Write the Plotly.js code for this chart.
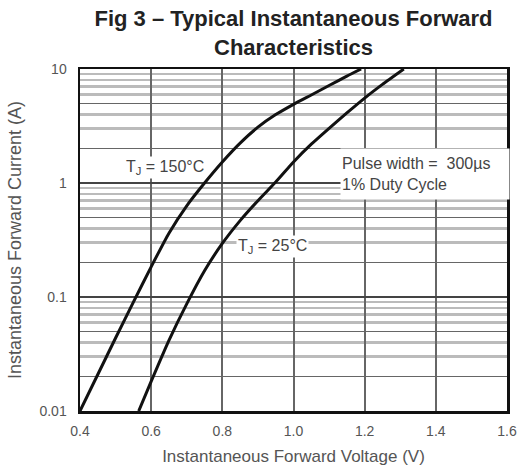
<!DOCTYPE html>
<html>
<head>
<meta charset="utf-8">
<script src="https://cdn.plot.ly/plotly-3.0.1.min.js"></script>
<style>html,body{margin:0;padding:0;background:#fff;}#chart{width:522px;height:468px;}</style>
</head>
<body>
<div id="chart"></div>
<script>
// Tj = 150 °C curve (V, A)
const v150 = [0.40, 0.45, 0.50, 0.55, 0.60, 0.65, 0.70, 0.75, 0.80, 0.85, 0.90, 0.95, 1.00, 1.05, 1.10, 1.15, 1.19];
const i150 = [0.01, 0.0209, 0.0437, 0.0902, 0.184, 0.363, 0.631, 1.0, 1.53, 2.24, 3.09, 3.98, 4.9, 5.92, 7.16, 8.66, 10];
// Tj = 25 °C curve (V, A)
const v25 = [0.565, 0.60, 0.65, 0.70, 0.75, 0.80, 0.85, 0.90, 0.95, 1.00, 1.05, 1.10, 1.15, 1.20, 1.25, 1.31];
const i25 = [0.01, 0.0182, 0.0417, 0.0871, 0.170, 0.295, 0.468, 0.700, 1.02, 1.53, 2.19, 3.02, 4.12, 5.56, 7.33, 10];

const xTicks = [0.4, 0.6, 0.8, 1.0, 1.2, 1.4, 1.6];
const xTickText = ["0.4", "0.6", "0.8", "1.0", "1.2", "1.4", "1.6"];
const yTicks = [0.01, 0.1, 1, 10];
const yTickText = ["0.01", "0.1", "1", "10"];
const yLightGrid = [0.03,0.04,0.06,0.07,0.08,0.09,0.3,0.4,0.6,0.7,0.8,0.9,3,4,6,7,8,9];
const yDarkGrid = [0.02,0.05,0.2,0.5,2,5];

const FONT = "Arial, 'Liberation Sans', sans-serif";

const traces = [
  {x: v150, y: i150, mode: "lines", line: {color: "#111", width: 3, shape: "spline", smoothing: 0.6}, hoverinfo: "skip"},
  {x: v25, y: i25, mode: "lines", line: {color: "#111", width: 3, shape: "spline", smoothing: 0.6}, hoverinfo: "skip"},
  {x: [], y: [], yaxis: "y2", mode: "lines", hoverinfo: "skip"}
];

const layout = {
  width: 522, height: 468,
  margin: {l: 80, r: 15, t: 69, b: 57},
  paper_bgcolor: "#fff", plot_bgcolor: "#fff",
  showlegend: false,
  font: {family: FONT, color: "#555", size: 14},
  title: {
    text: "<b>Fig 3 – Typical Instantaneous Forward<br>Characteristics</b>",
    font: {family: FONT, size: 22, color: "#222"},
    x: 0.5, xref: "paper", xanchor: "center",
    y: 0.944, yref: "container", yanchor: "top"
  },
  xaxis: {
    range: [0.4, 1.6], tickvals: xTicks, ticktext: xTickText,
    showgrid: true, gridcolor: "#666", gridwidth: 2,
    zeroline: false, showline: true, linecolor: "#111", linewidth: 2.5, mirror: true,
    ticks: "", ticklabelstandoff: 6, tickfont: {size: 14, color: "#555"},
    title: {text: "Instantaneous Forward Voltage (V)", font: {size: 17, color: "#555"}, standoff: 12}
  },
  yaxis: {
    type: "log", range: [-2, 1], tickvals: yTicks, ticktext: yTickText,
    showgrid: true, gridcolor: "#444", gridwidth: 2,
    minor: {tickvals: yLightGrid, showgrid: true, gridcolor: "#bbb", gridwidth: 2.5, ticks: ""},
    zeroline: false, showline: true, linecolor: "#111", linewidth: 2.5, mirror: true,
    ticks: "", ticklabelstandoff: 8, tickfont: {size: 14, color: "#555"},
    title: {text: "Instantaneous Forward Current (A)", font: {size: 18, color: "#555"}, standoff: 13}
  },
  yaxis2: {
    type: "log", range: [-2, 1], overlaying: "y", side: "left",
    tickvals: yDarkGrid, showticklabels: false, ticks: "",
    showgrid: true, gridcolor: "#666", gridwidth: 1,
    zeroline: false, showline: false
  },
  annotations: [
    {x: 0.639, y: Math.log10(1.38), xref: "x", yref: "y", text: "T<sub>J</sub> = 150°C",
     showarrow: false, font: {size: 16, color: "#444"}, bgcolor: "#fff", borderpad: 1},
    {x: 0.942, y: Math.log10(0.275), xref: "x", yref: "y", text: "T<sub>J</sub> = 25°C",
     showarrow: false, font: {size: 16, color: "#444"}, bgcolor: "#fff", borderpad: 1},
    {x: 1.131, y: Math.log10(1.2), xref: "x", yref: "y", xanchor: "left", align: "left",
     text: "Pulse width =  300µs<br>1% Duty Cycle", width: 166, height: 48,
     showarrow: false, font: {size: 16, color: "#444"}, bgcolor: "#fff", borderpad: 1}
  ]
};

Plotly.newPlot("chart", traces, layout, {staticPlot: true, displayModeBar: false});
</script>
</body>
</html>
